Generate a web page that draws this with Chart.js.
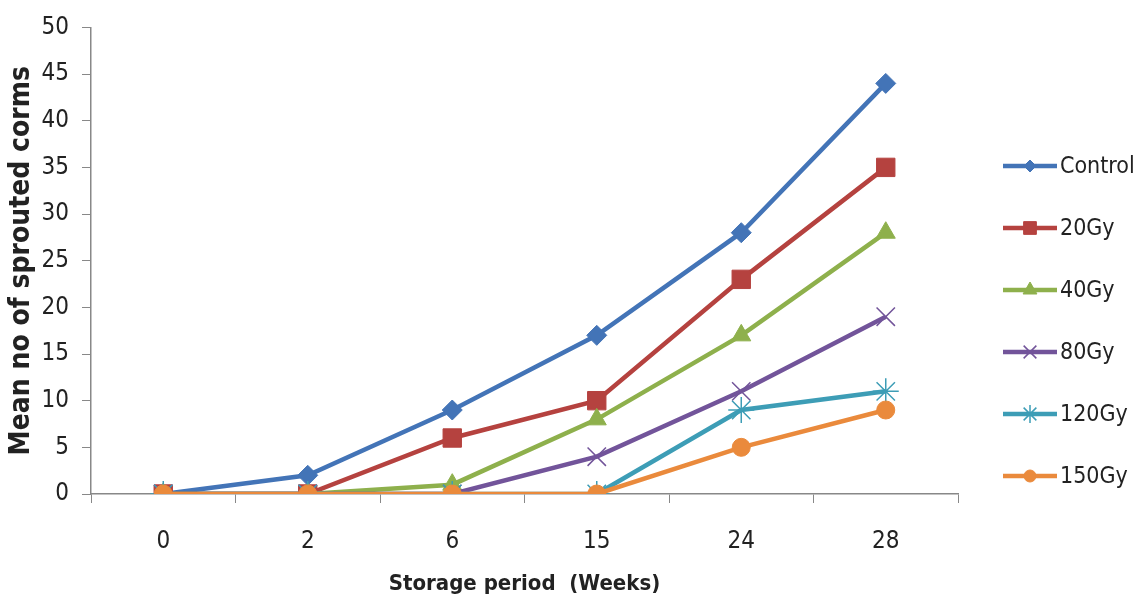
<!DOCTYPE html>
<html>
<head>
<meta charset="utf-8">
<script src="https://cdn.jsdelivr.net/npm/chart.js@4/dist/chart.umd.min.js"></script>
<style>
  html, body { margin: 0; padding: 0; background: #fff; }
  #wrap { width: 1142px; height: 604px; }
</style>
</head>
<body>
<div id="wrap"><canvas id="graf"></canvas></div>
<script>
// data
var weeks = ["0", "2", "6", "15", "24", "28"];
var control = [0, 2, 9, 17, 28, 44];
var gy20 = [0, 0, 6, 10, 23, 35];
var gy40 = [0, 0, 1, 8, 17, 28];
var gy80 = [0, 0, 0, 4, 11, 19];
var gy120 = [0, 0, 0, 0, 9, 11];
var gy150 = [0, 0, 0, 0, 5, 9];
var seriesNames = ["Control", "20Gy", "40Gy", "80Gy", "120Gy", "150Gy"];

var FONT = "'DejaVu Sans Condensed', 'Liberation Sans Narrow', sans-serif";

// one line series; order makes the later series sit on top, like in Excel
function ds(i, data, color, style, r, legendR) {
  return {
    label: seriesNames[i],
    data: data,
    order: 5 - i,
    borderColor: color,
    backgroundColor: color,
    pointBackgroundColor: color,
    pointBorderColor: color,
    borderWidth: 4.5,
    pointStyle: style,
    pointRadius: r,
    pointBorderWidth: style === "crossRot" || style === "star" ? 1.5 : 1,
    legendRadius: legendR,
    tension: 0,
    fill: false
  };
}

// legend on the right: line with the marker in the middle
var sideLegend = {
  id: "sideLegend",
  afterDraw: function (chart) {
    var ctx = chart.ctx;
    var x0 = 1003, x1 = 1057, y = 166, step = 62;
    ctx.save();
    chart.data.datasets.forEach(function (d, i) {
      var yy = y + i * step;
      ctx.strokeStyle = d.borderColor;
      ctx.lineWidth = 4.5;
      ctx.beginPath();
      ctx.moveTo(x0, yy);
      ctx.lineTo(x1, yy);
      ctx.stroke();
      ctx.fillStyle = d.backgroundColor;
      ctx.lineWidth = d.pointBorderWidth;
      Chart.helpers.drawPoint(ctx, { pointStyle: d.pointStyle, radius: d.legendRadius, borderWidth: d.pointBorderWidth }, (x0 + x1) / 2, yy);
      ctx.fillStyle = "#222";
      ctx.font = "23px " + FONT;
      ctx.textBaseline = "middle";
      ctx.fillText(d.label, x1 + 3, yy + 1);
    });
    ctx.restore();
  }
};

new Chart(document.getElementById("graf"), {
  type: "line",
  data: {
    labels: weeks,
    datasets: [
      ds(0, control, "#4374B7", "rectRot", 10, 6),
      ds(1, gy20, "#B5423F", "rect", 13, 9),
      ds(2, gy40, "#8EB04C", "triangle", 11, 8),
      ds(3, gy80, "#72549A", "crossRot", 13, 9),
      ds(4, gy120, "#3D9DB6", "star", 13, 9),
      ds(5, gy150, "#EA8A3C", "circle", 9, 6)
    ]
  },
  options: {
    responsive: true,
    maintainAspectRatio: false,
    animation: false,
    layout: { padding: { top: 26, right: 184, bottom: 0, left: 5 } },
    plugins: { legend: { display: false }, tooltip: { enabled: false } },
    scales: {
      x: {
        offset: true,
        afterFit: function (s) { s.height = 110; },
        grid: { offset: true, drawOnChartArea: false, tickLength: 9, color: "#888" },
        border: { color: "#888", width: 1.5 },
        ticks: { color: "#222", font: { size: 24, family: FONT }, padding: 24 },
        title: { display: true, text: "Storage period  (Weeks)", color: "#222", font: { size: 22, family: FONT, weight: "bold" }, padding: { top: 0, bottom: 7 } }
      },
      y: {
        min: 0,
        max: 50,
        afterFit: function (s) { s.width = 86; },
        ticks: { stepSize: 5, color: "#222", font: { size: 24, family: FONT }, padding: 13 },
        grid: { drawOnChartArea: false, tickLength: 9, color: "#888" },
        border: { color: "#888", width: 1.5 },
        title: { display: true, text: "Mean no of sprouted corms", color: "#222", font: { size: 28, family: FONT, weight: "bold" }, padding: { top: 0, bottom: 0 } }
      }
    }
  },
  plugins: [sideLegend]
});
</script>
</body>
</html>
